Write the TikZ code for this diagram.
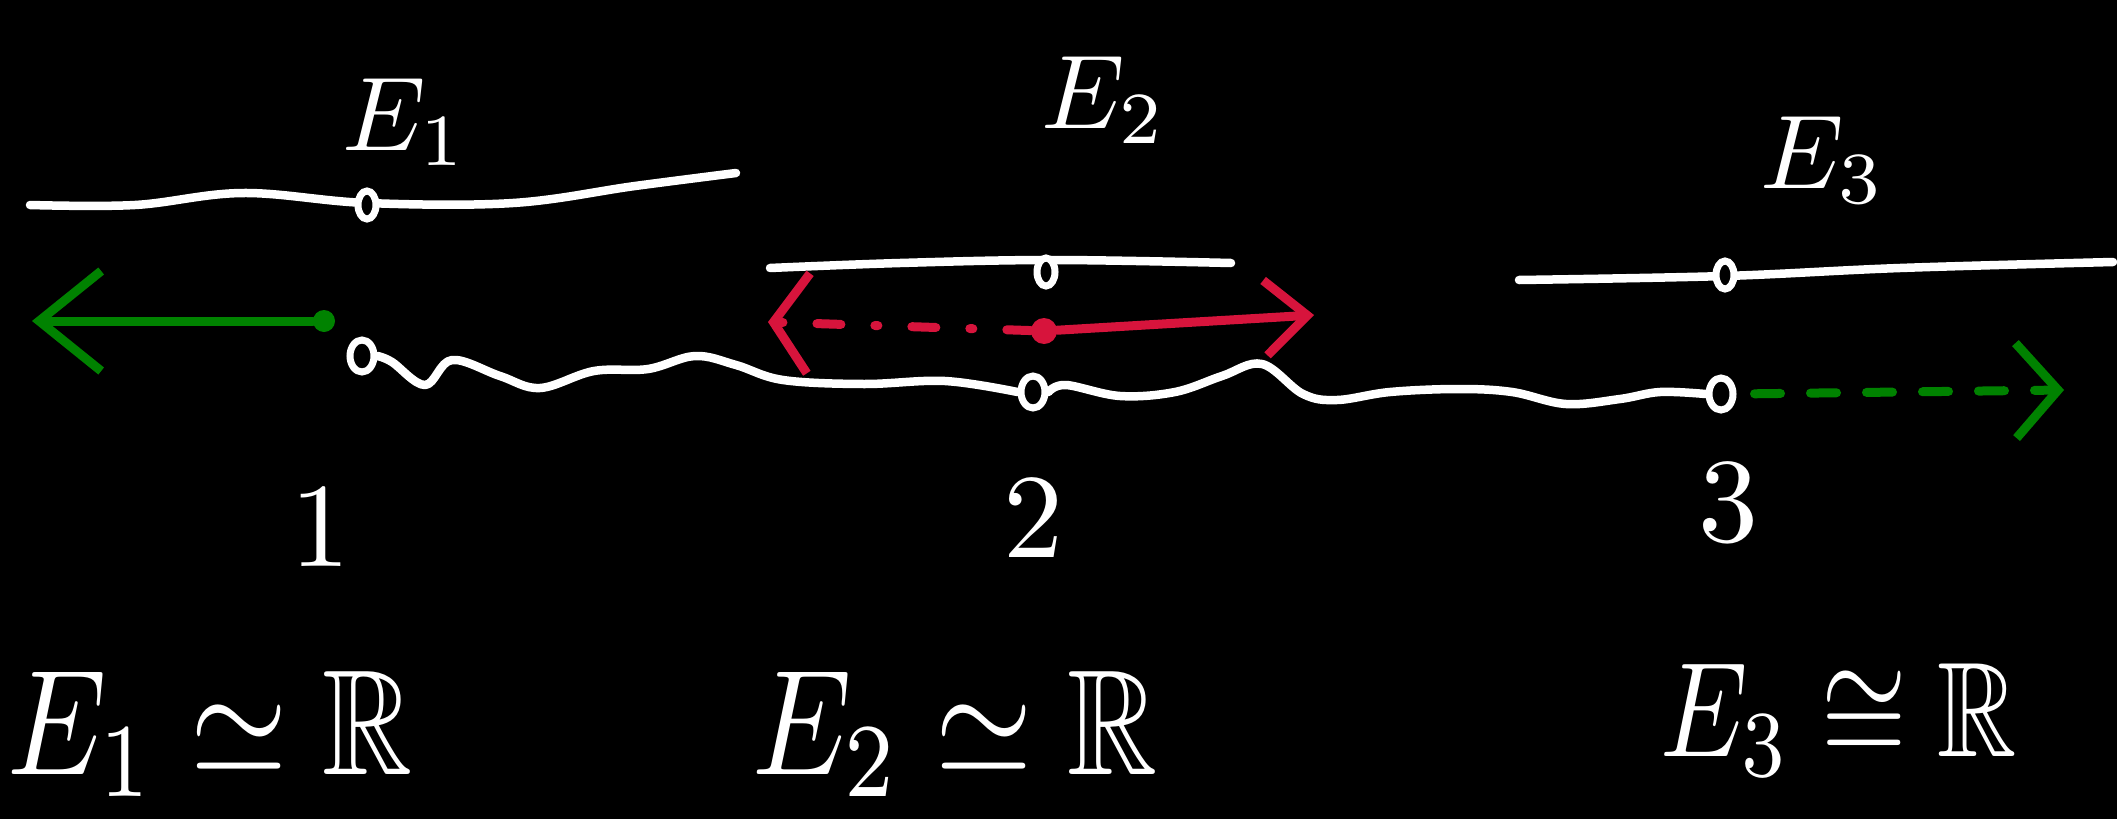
\documentclass[tikz,border=0pt]{standalone}
\usepackage{amssymb}
\usetikzlibrary{arrows.meta,shapes.geometric}
\definecolor{gr}{RGB}{0,130,0}
\definecolor{rd}{RGB}{215,20,60}
\begin{document}
\begin{tikzpicture}[x=1pt,y=-1pt,
  chalk/.style={draw=white, line width=8.5pt, line cap=round, line join=round},
  gchalk/.style={draw=gr, line width=9pt, line cap=round, line join=round},
  rchalk/.style={draw=rd, line width=9pt, line cap=round, line join=round},
  lbl/.style={text=white, inner sep=0pt},
  fdot/.style={ellipse, draw=white, fill=black, line width=7pt, minimum width=18pt, minimum height=28pt, inner sep=0pt},
  bdot/.style={ellipse, draw=white, fill=black, line width=7pt, minimum width=24pt, minimum height=32pt, inner sep=0pt},
  gdot/.style={circle, fill=gr, minimum size=22pt, inner sep=0pt},
  rdot/.style={circle, fill=rd, minimum size=26pt, inner sep=0pt}]
\fill[black] (0,0) rectangle (2117,819);
\useasboundingbox (0,0) rectangle (2117,819);

% fibre labels
\node[lbl] (t1) at (405,122) {\scalebox{10.5}{$E_1$}};
\node[lbl] (t2) at (1104,100) {\scalebox{10.5}{$E_2$}};
\node[lbl] (t3) at (1823,160) {\scalebox{10.5}{$E_3$}};

% fibres
\coordinate (p1) at (367,205);
\coordinate (p2) at (1046,272);
\coordinate (p3) at (1725,275);
\draw[chalk] plot[smooth, tension=0.6] coordinates {(30,205) (135,205) (243,193) (367,203) (513,203) (635,186) (736,173)};
\draw[chalk] plot[smooth, tension=0.6] coordinates {(770,268) (900,263) (1053,260) (1231,263)};
\draw[chalk] plot[smooth, tension=0.6] coordinates {(1519,280) (1725,276) (1900,268) (2113,262)};
\node[fdot] (f1) at (p1) {};
\node[fdot] (f2) at (p2) {};
\node[fdot] (f3) at (p3) {};

% base points
\node[bdot] (b1) at (362,356) {};
\node[bdot] (b2) at (1033,392) {};
\node[bdot] (b3) at (1721,394) {};

% wavy base
\draw[chalk] plot[smooth, tension=0.6] coordinates {(b1.east) (392,362) (425,385) (452,360) (500,376) (540,388) (594,371) (648,369) (695,356) (736,365) (783,380) (864,384) (945,381) (b2.west)};
\draw[chalk] plot[smooth, tension=0.6] coordinates {(b2.east) (1066,385) (1120,396) (1175,392) (1222,376) (1262,364) (1303,394) (1337,400) (1390,392) (1458,389) (1512,392) (1566,404) (1620,399) (1660,392) (b3.west)};

% green arrow at 1
\node[gdot] (g) at (324,321) {};
\coordinate (gend) at (32,321);
\draw[gchalk, -{Straight Barb[length=62pt, width=100pt, line width=9pt]}] (g) -- (gend);

% red arrows at 2
\node[rdot] (r) at (1044,331) {};
\coordinate (rR) at (1314,315);
\coordinate (rL) at (768,322);
\draw[rchalk, -{Straight Barb[length=42pt, width=75pt, line width=9pt]}] (r) -- (rR);
\draw[rchalk, dash pattern=on 24pt off 34pt on 3pt off 34pt, -{Straight Barb[length=35pt, width=100pt, line width=9pt]}] (r) -- (rL);

% green dashed arrow at 3
\coordinate (gR) at (2064,390);
\draw[gchalk, dash pattern=on 26pt off 30pt, shorten <=18pt, -{Straight Barb[length=42pt, width=95pt, line width=9pt]}] (b3.east) -- (gR);

% point labels
\node[lbl] (n1) at (320,527) {\scalebox{12}{1}};
\node[lbl] (n2) at (1033,518) {\scalebox{12}{2}};
\node[lbl] (n3) at (1728,503) {\scalebox{12}{3}};

% isomorphisms
\node[lbl] (i1) at (210,734) {\scalebox{12.5}[15]{$E_1 \simeq \mathbb{R}$}};
\node[lbl] (i2) at (955,734) {\scalebox{12.5}[15]{$E_2 \simeq \mathbb{R}$}};
\node[lbl] (i3) at (1839,720) {\scalebox{11}[13.5]{$E_3 \cong \mathbb{R}$}};
\end{tikzpicture}
\end{document}
